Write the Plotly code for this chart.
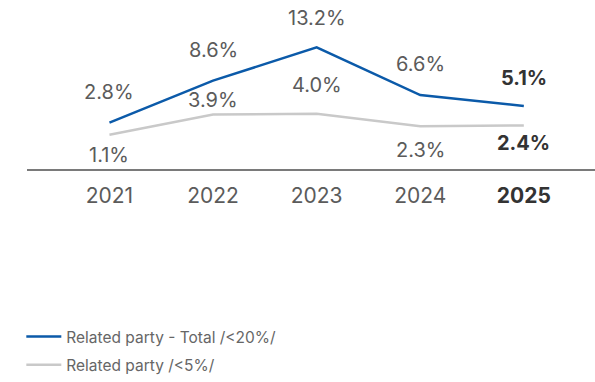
import plotly.graph_objects as go

years = ["2021", "2022", "2023", "2024", "2025"]
total_share = [2.8, 8.6, 13.2, 6.6, 5.1]
over5_share = [1.1, 3.9, 4.0, 2.3, 2.4]
series_names = ["Related party - Total /<20%/", "Related party /<5%/"]

BLUE = "#0b5aa9"
GREY = "#c9c9c9"
LABEL = "#5b5b5b"
STRONG = "#333333"
FONT = "Inter"

x_idx = list(range(len(years)))

fig = go.Figure()
fig.add_trace(go.Scatter(x=x_idx, y=total_share, mode="lines", name=series_names[0],
                         line=dict(color=BLUE, width=2.5), legendgroup="a"))
fig.add_trace(go.Scatter(x=x_idx, y=over5_share, mode="lines", name=series_names[1],
                         line=dict(color=GREY, width=2.5), legendgroup="b"))

# value labels: blue series above its line, grey series mostly below
total_shift = [31, 31, 29, 31, 28]
over5_shift = [-20, 15, 29, -24, -18]


def label_text(v, i):
    t = f"{v:.1f}%"
    return f"<b>{t}</b>" if i == len(years) - 1 else t


for i, v in enumerate(total_share):
    fig.add_annotation(x=x_idx[i], y=v, text=label_text(v, i), showarrow=False,
                       yshift=total_shift[i], xref="x", yref="y",
                       font=dict(family=FONT, size=20,
                                 color=STRONG if i == len(years) - 1 else LABEL))
for i, v in enumerate(over5_share):
    fig.add_annotation(x=x_idx[i], y=v, text=label_text(v, i), showarrow=False,
                       yshift=over5_shift[i], xref="x", yref="y",
                       font=dict(family=FONT, size=20,
                                 color=STRONG if i == len(years) - 1 else LABEL))

# latest year is emphasised on the axis as well
tick_text = [f"<span style='color:{STRONG}'><b>{y}</b></span>" if k == len(years) - 1 else y
             for k, y in enumerate(years)]

fig.update_layout(
    width=595, height=382,
    margin=dict(l=27, r=0, t=0, b=211),
    paper_bgcolor="white", plot_bgcolor="white",
    font=dict(family=FONT, color=LABEL),
    xaxis=dict(range=[-0.796, 4.687], tickvals=x_idx, ticktext=tick_text,
               showgrid=False, zeroline=False, showline=True, linecolor="#7a7a7a",
               linewidth=1.5, ticks="", ticklabelstandoff=7,
               tickfont=dict(family=FONT, size=21, color=LABEL), fixedrange=True),
    yaxis=dict(range=[-3.63, 19.76], showgrid=False, zeroline=False,
               showticklabels=False, showline=False, fixedrange=True),
    showlegend=True,
    legend=dict(orientation="v", x=-0.01, xanchor="left", y=-0.897, yanchor="top",
                font=dict(family=FONT, size=15.5, color="#666666"),
                tracegroupgap=5, itemwidth=35, bgcolor="rgba(0,0,0,0)"),
)

fig.write_html("out.html")
